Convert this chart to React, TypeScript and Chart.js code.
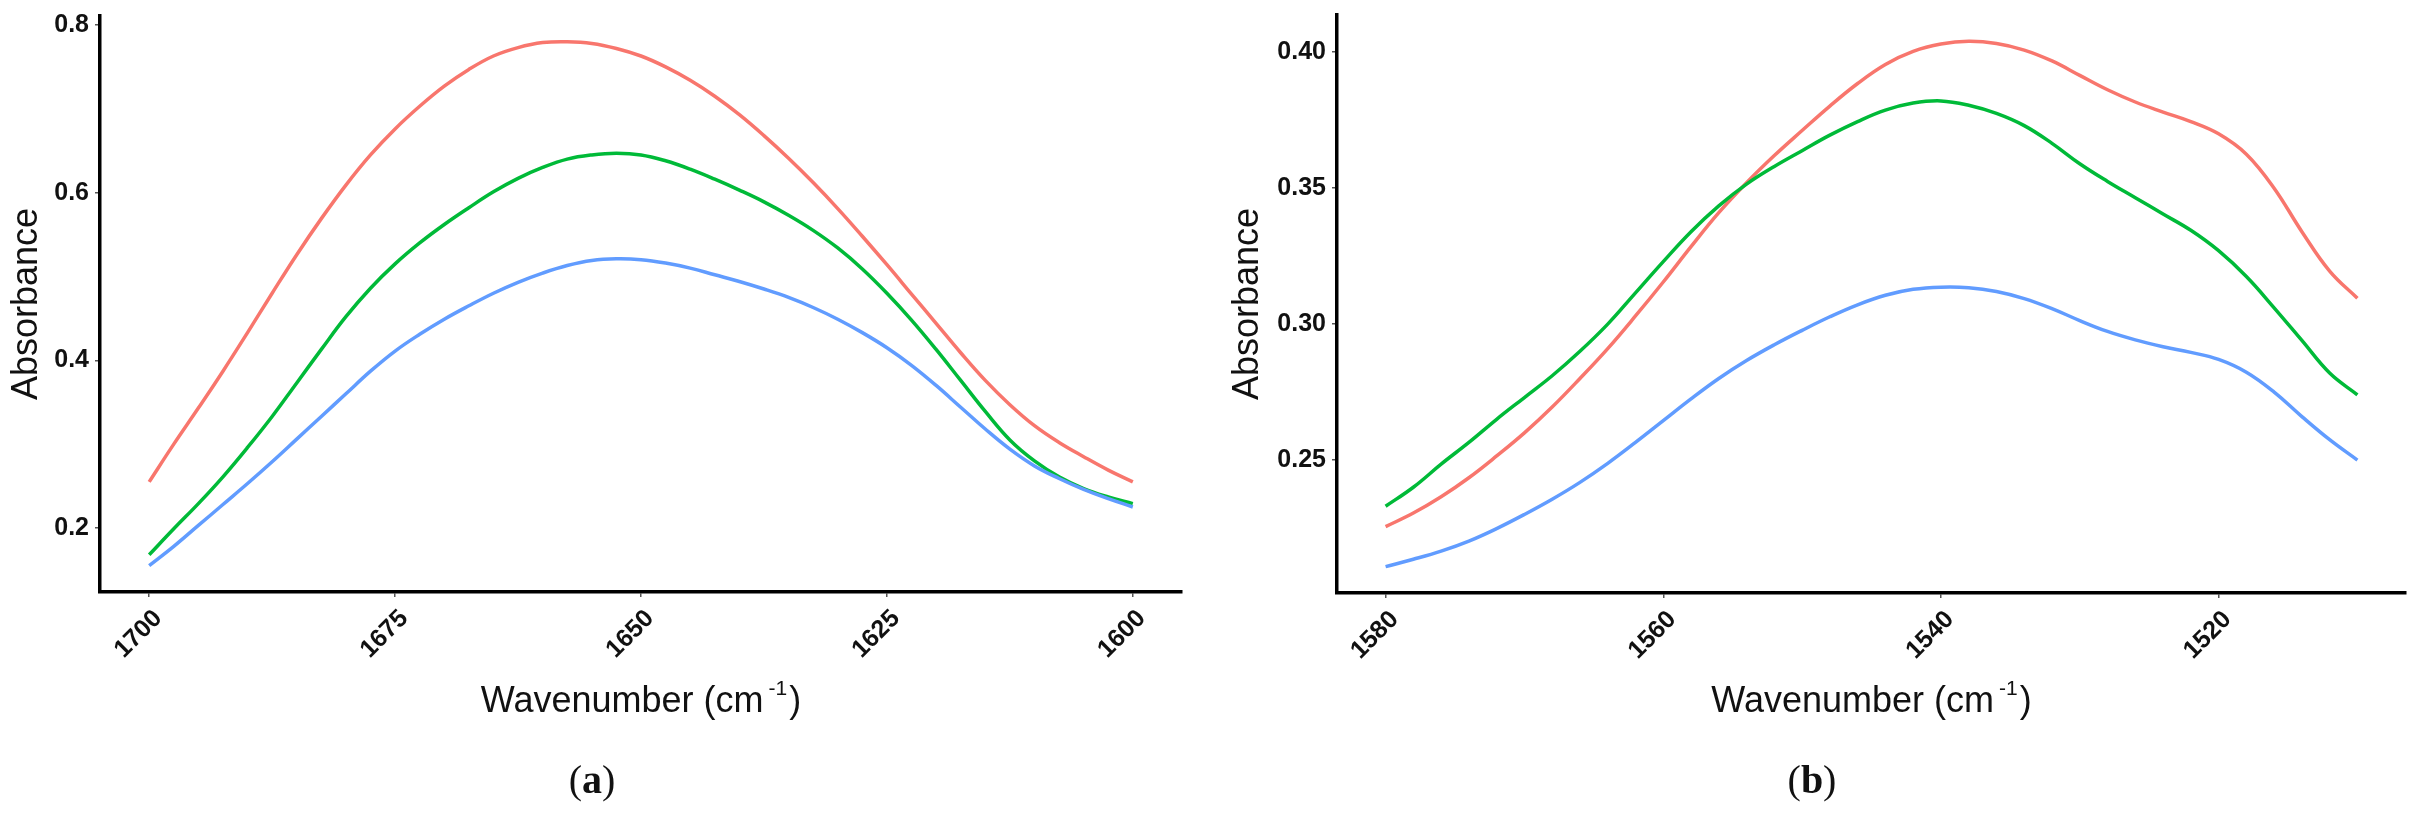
import React, { useEffect, useRef } from "react";
import { Chart, registerables } from "chart.js";

Chart.register(...registerables);

const SANS = '"Liberation Sans", Arial, Helvetica, sans-serif';
const SERIF = '"Liberation Serif", "Times New Roman", serif';

// ---------- data ----------
const seriesLabels = ["Sample 1", "Sample 2", "Sample 3"];
const seriesColors = ["#F8766D", "#00BA38", "#619CFF"];

// Panel (a): amide I region
const wavenumbersA = [
  1700, 1697.5, 1695, 1692.5, 1690, 1687.5, 1685, 1682.5, 1680, 1677.5,
  1675, 1672.5, 1670, 1667.5, 1665, 1662.5, 1660, 1657.5, 1655, 1652.5,
  1650, 1647.5, 1645, 1642.5, 1640, 1637.5, 1635, 1632.5, 1630, 1627.5,
  1625, 1622.5, 1620, 1617.5, 1615, 1612.5, 1610, 1607.5, 1605, 1602.5, 1600,
];
const redA = [
  0.255, 0.3, 0.343, 0.387, 0.433, 0.48, 0.526, 0.569, 0.609, 0.645,
  0.676, 0.703, 0.727, 0.747, 0.763, 0.773, 0.779, 0.78, 0.778, 0.772,
  0.763, 0.75, 0.734, 0.715, 0.693, 0.668, 0.641, 0.612, 0.581, 0.548,
  0.514, 0.479, 0.444, 0.409, 0.376, 0.347, 0.322, 0.302, 0.285, 0.269, 0.255,
];
const greenA = [
  0.168, 0.199, 0.229, 0.261, 0.296, 0.333, 0.373, 0.413, 0.452, 0.486,
  0.515, 0.54, 0.562, 0.582, 0.601, 0.617, 0.63, 0.64, 0.645, 0.647,
  0.645, 0.638, 0.628, 0.616, 0.603, 0.589, 0.573, 0.555, 0.534, 0.509,
  0.48, 0.448, 0.413, 0.376, 0.339, 0.305, 0.28, 0.261, 0.247, 0.237, 0.229,
];
const blueA = [
  0.155, 0.178, 0.203, 0.228, 0.253, 0.279, 0.306, 0.333, 0.36, 0.387,
  0.411, 0.431, 0.449, 0.465, 0.48, 0.493, 0.504, 0.513, 0.519, 0.521,
  0.52, 0.516, 0.51, 0.502, 0.494, 0.485, 0.475, 0.463, 0.449, 0.433,
  0.415, 0.394, 0.37, 0.344, 0.318, 0.294, 0.274, 0.259, 0.246, 0.235, 0.225,
];
const xTicksA = [1700, 1675, 1650, 1625, 1600];
const yTicksA = [0.2, 0.4, 0.6, 0.8];

// Panel (b): amide II region
const wavenumbersB = [
  1580, 1578, 1576, 1574, 1572, 1570, 1568, 1566, 1564, 1562,
  1560, 1558, 1556, 1554, 1552, 1550, 1548, 1546, 1544, 1542,
  1540, 1538, 1536, 1534, 1532, 1530, 1528, 1526, 1524, 1522,
  1520, 1518, 1516, 1514, 1512, 1510,
];
const redB = [
  0.2255, 0.2305, 0.2365, 0.2435, 0.2515, 0.26, 0.2695, 0.28, 0.291, 0.303,
  0.3155, 0.3285, 0.341, 0.352, 0.362, 0.3712, 0.3802, 0.3885, 0.3955, 0.4003,
  0.403, 0.404, 0.4032, 0.4008, 0.3968, 0.3915, 0.3862, 0.3817, 0.378, 0.3745,
  0.37, 0.3625, 0.35, 0.334, 0.3195, 0.3095,
];
const greenB = [
  0.233, 0.24, 0.2485, 0.2565, 0.265, 0.273, 0.281, 0.29, 0.3, 0.3115,
  0.323, 0.334, 0.3435, 0.3515, 0.358, 0.3638, 0.3695, 0.3745, 0.3787, 0.3813,
  0.3821, 0.3805, 0.3775, 0.373, 0.3665, 0.359, 0.3525, 0.3465, 0.3405, 0.3345,
  0.327, 0.3175, 0.306, 0.294, 0.282, 0.274,
];
const blueB = [
  0.2108, 0.2135, 0.2165, 0.2202, 0.2248, 0.23, 0.2356, 0.2418, 0.2488, 0.2565,
  0.2645, 0.2725, 0.28, 0.2866, 0.2924, 0.2977, 0.3027, 0.3071, 0.3106, 0.3128,
  0.3136, 0.3134, 0.312, 0.3094, 0.3057, 0.3013, 0.2973, 0.2942, 0.2917, 0.2896,
  0.287, 0.2823, 0.275, 0.266, 0.2575, 0.25,
];
const xTicksB = [1580, 1560, 1540, 1520];
const yTicksB = [0.25, 0.3, 0.35, 0.4];

const yTitleText = "Absorbance";
const xTitleMain = "Wavenumber (cm";
const xTitleSup = "-1";
const xTitleEnd = ")";
const captionA = "a";
const captionB = "b";

// ---------- plugin drawing x-axis title (with superscript) and panel caption ----------
const annotPlugin = {
  id: "annot",
  afterDraw(chart: any, _args: any, opts: any) {
    const ctx = chart.ctx as CanvasRenderingContext2D;
    const ca = chart.chartArea;
    ctx.save();
    ctx.fillStyle = "#111";
    ctx.textAlign = "left";
    ctx.textBaseline = "alphabetic";
    const mainFont = `36px ${SANS}`;
    const supFont = `21px ${SANS}`;
    ctx.font = mainFont;
    const w1 = ctx.measureText(xTitleMain).width;
    const w3 = ctx.measureText(xTitleEnd).width;
    ctx.font = supFont;
    const ws = ctx.measureText(xTitleSup).width;
    const gap = 5;
    const total = w1 + gap + ws + 2 + w3;
    let x = (ca.left + ca.right) / 2 - total / 2;
    const base = opts.titleBaseline;
    ctx.font = mainFont;
    ctx.fillText(xTitleMain, x, base);
    x += w1 + gap;
    ctx.font = supFont;
    ctx.fillText(xTitleSup, x, base - 17);
    x += ws + 2;
    ctx.font = mainFont;
    ctx.fillText(xTitleEnd, x, base);

    // caption "(a)" with bold letter
    const capNormal = `40px ${SERIF}`;
    const capBold = `bold 40px ${SERIF}`;
    ctx.font = capNormal;
    const pw = ctx.measureText("(").width;
    const pw2 = ctx.measureText(")").width;
    ctx.font = capBold;
    const lw = ctx.measureText(opts.caption).width;
    let cx = opts.captionX - (pw + lw + pw2) / 2;
    const cb = opts.captionBaseline;
    ctx.font = capNormal;
    ctx.fillText("(", cx, cb);
    cx += pw;
    ctx.font = capBold;
    ctx.fillText(opts.caption, cx, cb);
    cx += lw;
    ctx.font = capNormal;
    ctx.fillText(")", cx, cb);
    ctx.restore();
  },
};

type PanelProps = {
  left: number;
  width: number;
  xs: number[];
  series: number[][];
  xMin: number;
  xMax: number;
  yMin: number;
  yMax: number;
  xTicks: number[];
  yTicks: number[];
  decimals: number;
  yAxisWidth: number;
  xAxisHeight: number;
  padTop: number;
  padRight: number;
  caption: string;
  captionX: number;
};

function Panel(p: PanelProps) {
  const ref = useRef<HTMLCanvasElement>(null);
  useEffect(() => {
    const tickFont = { family: SANS, size: 25, weight: "bold" as const };
    const datasets = p.series.map((vals, i) => ({
      label: seriesLabels[i],
      data: p.xs.map((x, j) => ({ x, y: vals[j] })),
      borderColor: seriesColors[i],
      backgroundColor: seriesColors[i],
      borderWidth: 3.5,
      pointRadius: 0,
      fill: false,
      tension: 0.4,
      order: 2 - i,
    }));
    const chart = new Chart(ref.current!, {
      type: "line",
      data: { datasets },
      plugins: [annotPlugin],
      options: {
        animation: false,
        responsive: false,
        events: [],
        layout: {
          autoPadding: false,
          padding: { top: p.padTop, right: p.padRight, bottom: 0, left: 0 },
        },
        plugins: {
          legend: { display: false },
          tooltip: { enabled: false },
          annot: {
            titleBaseline: 712,
            caption: p.caption,
            captionX: p.captionX,
            captionBaseline: 793,
          },
        } as any,
        scales: {
          x: {
            type: "linear",
            reverse: true,
            min: p.xMin,
            max: p.xMax,
            afterBuildTicks: (s: any) => {
              s.ticks = p.xTicks.map((v) => ({ value: v }));
            },
            afterFit: (s: any) => {
              s.height = p.xAxisHeight;
              s.paddingLeft = 0;
              s.paddingRight = 0;
            },
            ticks: {
              autoSkip: false,
              minRotation: 45,
              maxRotation: 45,
              padding: 7,
              labelOffset: 9,
              color: "#111",
              font: tickFont,
              callback: (v: any) => String(v),
            },
            grid: {
              display: true,
              drawOnChartArea: false,
              drawTicks: true,
              tickLength: 5,
              color: "#555",
              lineWidth: 1.5,
            },
            border: { display: true, color: "#000", width: 3.5 },
            title: { display: false },
          },
          y: {
            type: "linear",
            min: p.yMin,
            max: p.yMax,
            afterBuildTicks: (s: any) => {
              s.ticks = p.yTicks.map((v) => ({ value: v }));
            },
            afterFit: (s: any) => {
              s.width = p.yAxisWidth;
              s.paddingTop = 0;
              s.paddingBottom = 0;
            },
            ticks: {
              padding: 6,
              color: "#111",
              font: tickFont,
              callback: (v: any) => Number(v).toFixed(p.decimals),
            },
            grid: {
              display: true,
              drawOnChartArea: false,
              drawTicks: true,
              tickLength: 5,
              color: "#555",
              lineWidth: 1.5,
            },
            border: { display: true, color: "#000", width: 3.5 },
            title: {
              display: true,
              text: yTitleText,
              color: "#111",
              font: { family: SANS, size: 36, weight: "normal" as const },
              padding: { top: 5, bottom: 0 },
            },
          },
        },
      },
    } as any);
    return () => chart.destroy();
  }, []);
  return (
    <canvas
      ref={ref}
      width={p.width}
      height={815}
      style={{ position: "absolute", left: p.left, top: 0, width: p.width, height: 815 }}
    />
  );
}

export default function App() {
  return (
    <div
      style={{
        position: "absolute",
        left: 0,
        top: 0,
        width: 2419,
        height: 815,
        background: "#fff",
        overflow: "hidden",
      }}
    >
      <Panel
        left={0}
        width={1200}
        xs={wavenumbersA}
        series={[redA, greenA, blueA]}
        xMin={1595}
        xMax={1705}
        yMin={0.1236}
        yMax={0.8107}
        xTicks={xTicksA}
        yTicks={yTicksA}
        decimals={1}
        yAxisWidth={100}
        xAxisHeight={223}
        padTop={16}
        padRight={18}
        caption={captionA}
        captionX={592}
      />
      <Panel
        left={1221}
        width={1198}
        xs={wavenumbersB}
        series={[redB, greenB, blueB]}
        xMin={1506.5}
        xMax={1583.5}
        yMin={0.2011}
        yMax={0.4137}
        xTicks={xTicksB}
        yTicks={yTicksB}
        decimals={2}
        yAxisWidth={116}
        xAxisHeight={222}
        padTop={15}
        padRight={13}
        caption={captionB}
        captionX={591}
      />
    </div>
  );
}
